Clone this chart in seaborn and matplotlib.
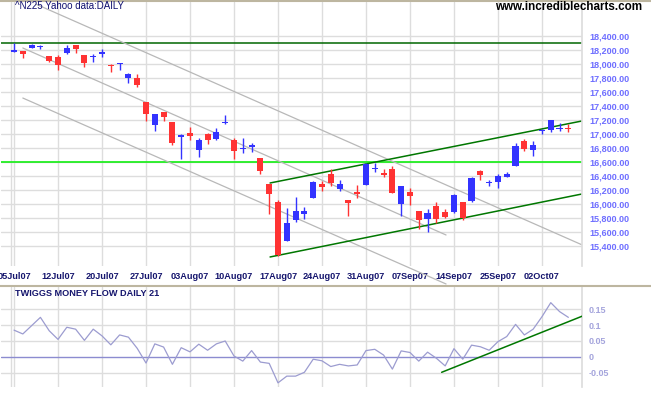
import numpy as np
import pandas as pd
import matplotlib
matplotlib.use("Agg")
import matplotlib.pyplot as plt
from matplotlib.lines import Line2D
import seaborn as sns

# x axis: trading days, one label per week
date_labels = ['05Jul07', '12Jul07', '20Jul07', '27Jul07', '03Aug07', '10Aug07', '17Aug07',
               '24Aug07', '31Aug07', '07Sep07', '14Sep07', '25Sep07', '02Oct07']
date_pos = [0, 5, 10, 15, 20, 25, 30, 35, 40, 45, 50, 55, 60]

# Nikkei 225 daily candles
opens = [18175, 18185, 18235, 18240, 18110, 18100, 18157, 18270, 18130, 18096,
         18150, 17990, 17995, 17805, 17800, 17457, 17133, 17314, 17171, 16962,
         17014, 16776, 17000, 16933, 17160, 16914, 16790, 16819, 16657, 16286,
         16029, 15476, 15771, 15862, 16090, 16290, 16433, 16219, 16057, 16171,
         16271, 16505, 16448, 16500, 16005, 16171, 15900, 15786, 15971, 15886,
         15890, 16029, 16038, 16471, 16300, 16319, 16390, 16548, 16900, 16771,
         17040, 17062, 17075, 17080]
highs = [18300, 18190, 18285, 18275, 18115, 18130, 18270, 18275, 18130, 18140,
         18210, 17995, 18020, 17865, 17853, 17460, 17290, 17320, 17175, 17005,
         17100, 16943, 17010, 17086, 17271, 16938, 16943, 16867, 16660, 16290,
         16057, 15948, 16100, 15957, 16329, 16329, 16495, 16338, 16060, 16271,
         16580, 16581, 16495, 16543, 16255, 16233, 15905, 15929, 16033, 15929,
         16143, 16035, 16386, 16486, 16343, 16429, 16462, 16871, 16933, 16900,
         17076, 17205, 17152, 17143]
lows = [18170, 18090, 18225, 18215, 18030, 17920, 18140, 18157, 17960, 18035,
        18105, 17890, 17910, 17733, 17676, 17190, 17048, 17190, 16843, 16647,
        16914, 16676, 16862, 16914, 17150, 16647, 16724, 16748, 16429, 15857,
        15260, 15470, 15748, 15786, 16085, 16190, 16262, 16186, 15829, 16090,
        16265, 16452, 16390, 16160, 15829, 15986, 15648, 15605, 15724, 15805,
        15876, 15771, 16030, 16343, 16252, 16233, 16385, 16545, 16757, 16686,
        16995, 17024, 17048, 17033]
closes = [18200, 18145, 18265, 18250, 18050, 17990, 18233, 18220, 18020, 18119,
          18160, 17967, 18005, 17862, 17705, 17290, 17286, 17248, 16876, 16990,
          16976, 16910, 16914, 17029, 17170, 16762, 16800, 16848, 16476, 16148,
          15267, 15729, 15900, 15900, 16314, 16248, 16295, 16286, 16019, 16143,
          16571, 16515, 16419, 16162, 16252, 16119, 15767, 15871, 15786, 15814,
          16129, 15795, 16371, 16419, 16320, 16400, 16429, 16829, 16786, 16843,
          17050, 17200, 17090, 17065]

# Twiggs Money Flow (21)
money_flow = [0.084, 0.072, 0.098, 0.124, 0.082, 0.055, 0.093, 0.087, 0.052, 0.087,
              0.066, 0.038, 0.069, 0.062, 0.027, -0.019, 0.041, 0.031, -0.023, 0.029,
              0.016, 0.040, 0.021, 0.041, 0.050, 0.003, -0.013, 0.020, -0.016, -0.020,
              -0.081, -0.060, -0.060, -0.048, -0.007, -0.012, -0.030, -0.023, -0.028, -0.025,
              0.020, 0.024, 0.006, -0.038, 0.019, 0.014, -0.013, 0.015, -0.004, -0.028,
              0.026, -0.007, 0.037, 0.032, 0.021, 0.048, 0.064, 0.102, 0.069, 0.087,
              0.126, 0.170, 0.142, 0.124]

# drawn trend lines (x = trading day index)
resistance = 18300
support = 16600
gray_upper = ([2.5, 64.5], [18855, 15419])
gray_mid = ([1.0, 49.1], [18229, 15557])
gray_low = ([1.0, 49.1], [17514, 14857])
chan_low = ([29.1, 64.55], [15243, 16143])
chan_up = ([29.1, 64.55], [16300, 17186])
mf_trend = ([48.6, 64.6], [-0.048, 0.128])

price_ticks = list(range(15400, 18401, 200))
mf_ticks = [-0.05, 0, 0.05, 0.1, 0.15]
mf_tick_labels = ['-0.05', '0', '0.05', '0.1', '0.15']

sns.set_theme(style="white")
plt.rcParams['font.family'] = ['Liberation Sans', 'DejaVu Sans']

W, H = 651, 395
fig = plt.figure(figsize=(W / 100, H / 100), dpi=100)
fig.patch.set_facecolor('white')

def box(l, t, r, b):
    return [l / W, 1 - b / H, (r - l) / W, (b - t) / H]

ax = fig.add_axes(box(1, 2, 582, 266))
ax2 = fig.add_axes(box(1, 287, 582, 387))

grid_col = '#dddddd'
blue = '#3333ff'
red = '#ff3333'
xmin, xmax = -1.48, 64.55

df = pd.DataFrame({'open': opens, 'high': highs, 'low': lows, 'close': closes})
df['day'] = np.arange(len(df))
df['up'] = df['close'] >= df['open']
df['color'] = np.where(df['up'], blue, red)
df['bottom'] = df[['open', 'close']].min(axis=1)
df['height'] = (df['close'] - df['open']).abs().clip(lower=16)

for a in (ax, ax2):
    a.set_xlim(xmin, xmax)
    for p in date_pos:
        a.axvline(p, color=grid_col, lw=1, zorder=0)
    a.axvline(-0.34, color=grid_col, lw=1, zorder=0)
    for s in a.spines.values():
        s.set_visible(False)
    a.spines['right'].set_visible(True)
    a.spines['right'].set_color(grid_col)
    a.yaxis.tick_right()
    a.tick_params(length=0)

# price panel
ax.set_ylim(15114, 18886)
for v in price_ticks:
    ax.axhline(v, color=grid_col, lw=1, zorder=0)
ax.axhline(resistance, color='#006600', lw=1.1, zorder=1)
ax.axhline(support, color='#11ee11', lw=1.2, zorder=1)
for xs, ys in (gray_upper, gray_mid, gray_low):
    ax.plot(xs, ys, color='#b8b8b8', lw=0.9, zorder=1, clip_on=False)
for xs, ys in (chan_low, chan_up):
    ax.plot(xs, ys, color='#007700', lw=1.1, zorder=1)

ax.vlines(df['day'], df['low'], df['high'], colors=df['color'], lw=1, zorder=2)
ax.bar(df['day'], df['height'], bottom=df['bottom'], width=0.7,
       color=df['color'], edgecolor='none', zorder=3)

ax.set_yticks(price_ticks)
ax.set_yticklabels([f"{v:,.2f}" for v in price_ticks], fontsize=6.5,
                   fontweight='bold', color='#6e6eff')
ax.tick_params(axis='y', pad=5)
ax.set_xticks(date_pos)
ax.set_xticklabels(date_labels, fontsize=6.6, fontweight='bold', color='#16166e')
ax.tick_params(axis='x', pad=4)
ax.set_xlabel('')
ax.set_ylabel('')

# money flow panel
ax2.set_ylim(-0.094, 0.219)
for v in [-0.05, 0.05, 0.1, 0.15]:
    ax2.axhline(v, color=grid_col, lw=1, zorder=0)
ax2.axhline(0, color='#8c8cd0', lw=1, zorder=1)
mf = pd.DataFrame({'day': np.arange(len(money_flow)), 'mf': money_flow})
sns.lineplot(data=mf, x='day', y='mf', ax=ax2, color='#9c9cd0', lw=0.9, zorder=2)
ax2.plot(mf_trend[0], mf_trend[1], color='#007700', lw=1.1, zorder=3)
ax2.set_yticks(mf_ticks)
ax2.set_yticklabels(mf_tick_labels, fontsize=6.5, fontweight='bold', color='#a4a4dc')
ax2.tick_params(axis='y', pad=5)
ax2.set_xticks(date_pos)
ax2.set_xticklabels([])
ax2.set_xlabel('')
ax2.set_ylabel('')

# panel separators
fig.add_artist(Line2D([0, 1], [1 - 285.5 / H] * 2, color='#bdb6a0', lw=1.5))
fig.add_artist(Line2D([0, 1], [1 - 0.8 / H] * 2, color='#bdb6a0', lw=1.5))

fig.text(15 / W, 1 - 6 / H, '^N225 Yahoo data:DAILY', fontsize=7, color='#101070',
         ha='left', va='center')
fig.text(642 / W, 1 - 7.5 / H, 'www.incrediblecharts.com', fontsize=8.4,
         fontweight='bold', color='black', ha='right', va='center')
fig.text(15 / W, 1 - 294 / H, 'TWIGGS MONEY FLOW DAILY 21', fontsize=6.6,
         fontweight='bold', color='#16166e', ha='left', va='center')

fig.savefig('out.png', dpi=100, facecolor='white')
